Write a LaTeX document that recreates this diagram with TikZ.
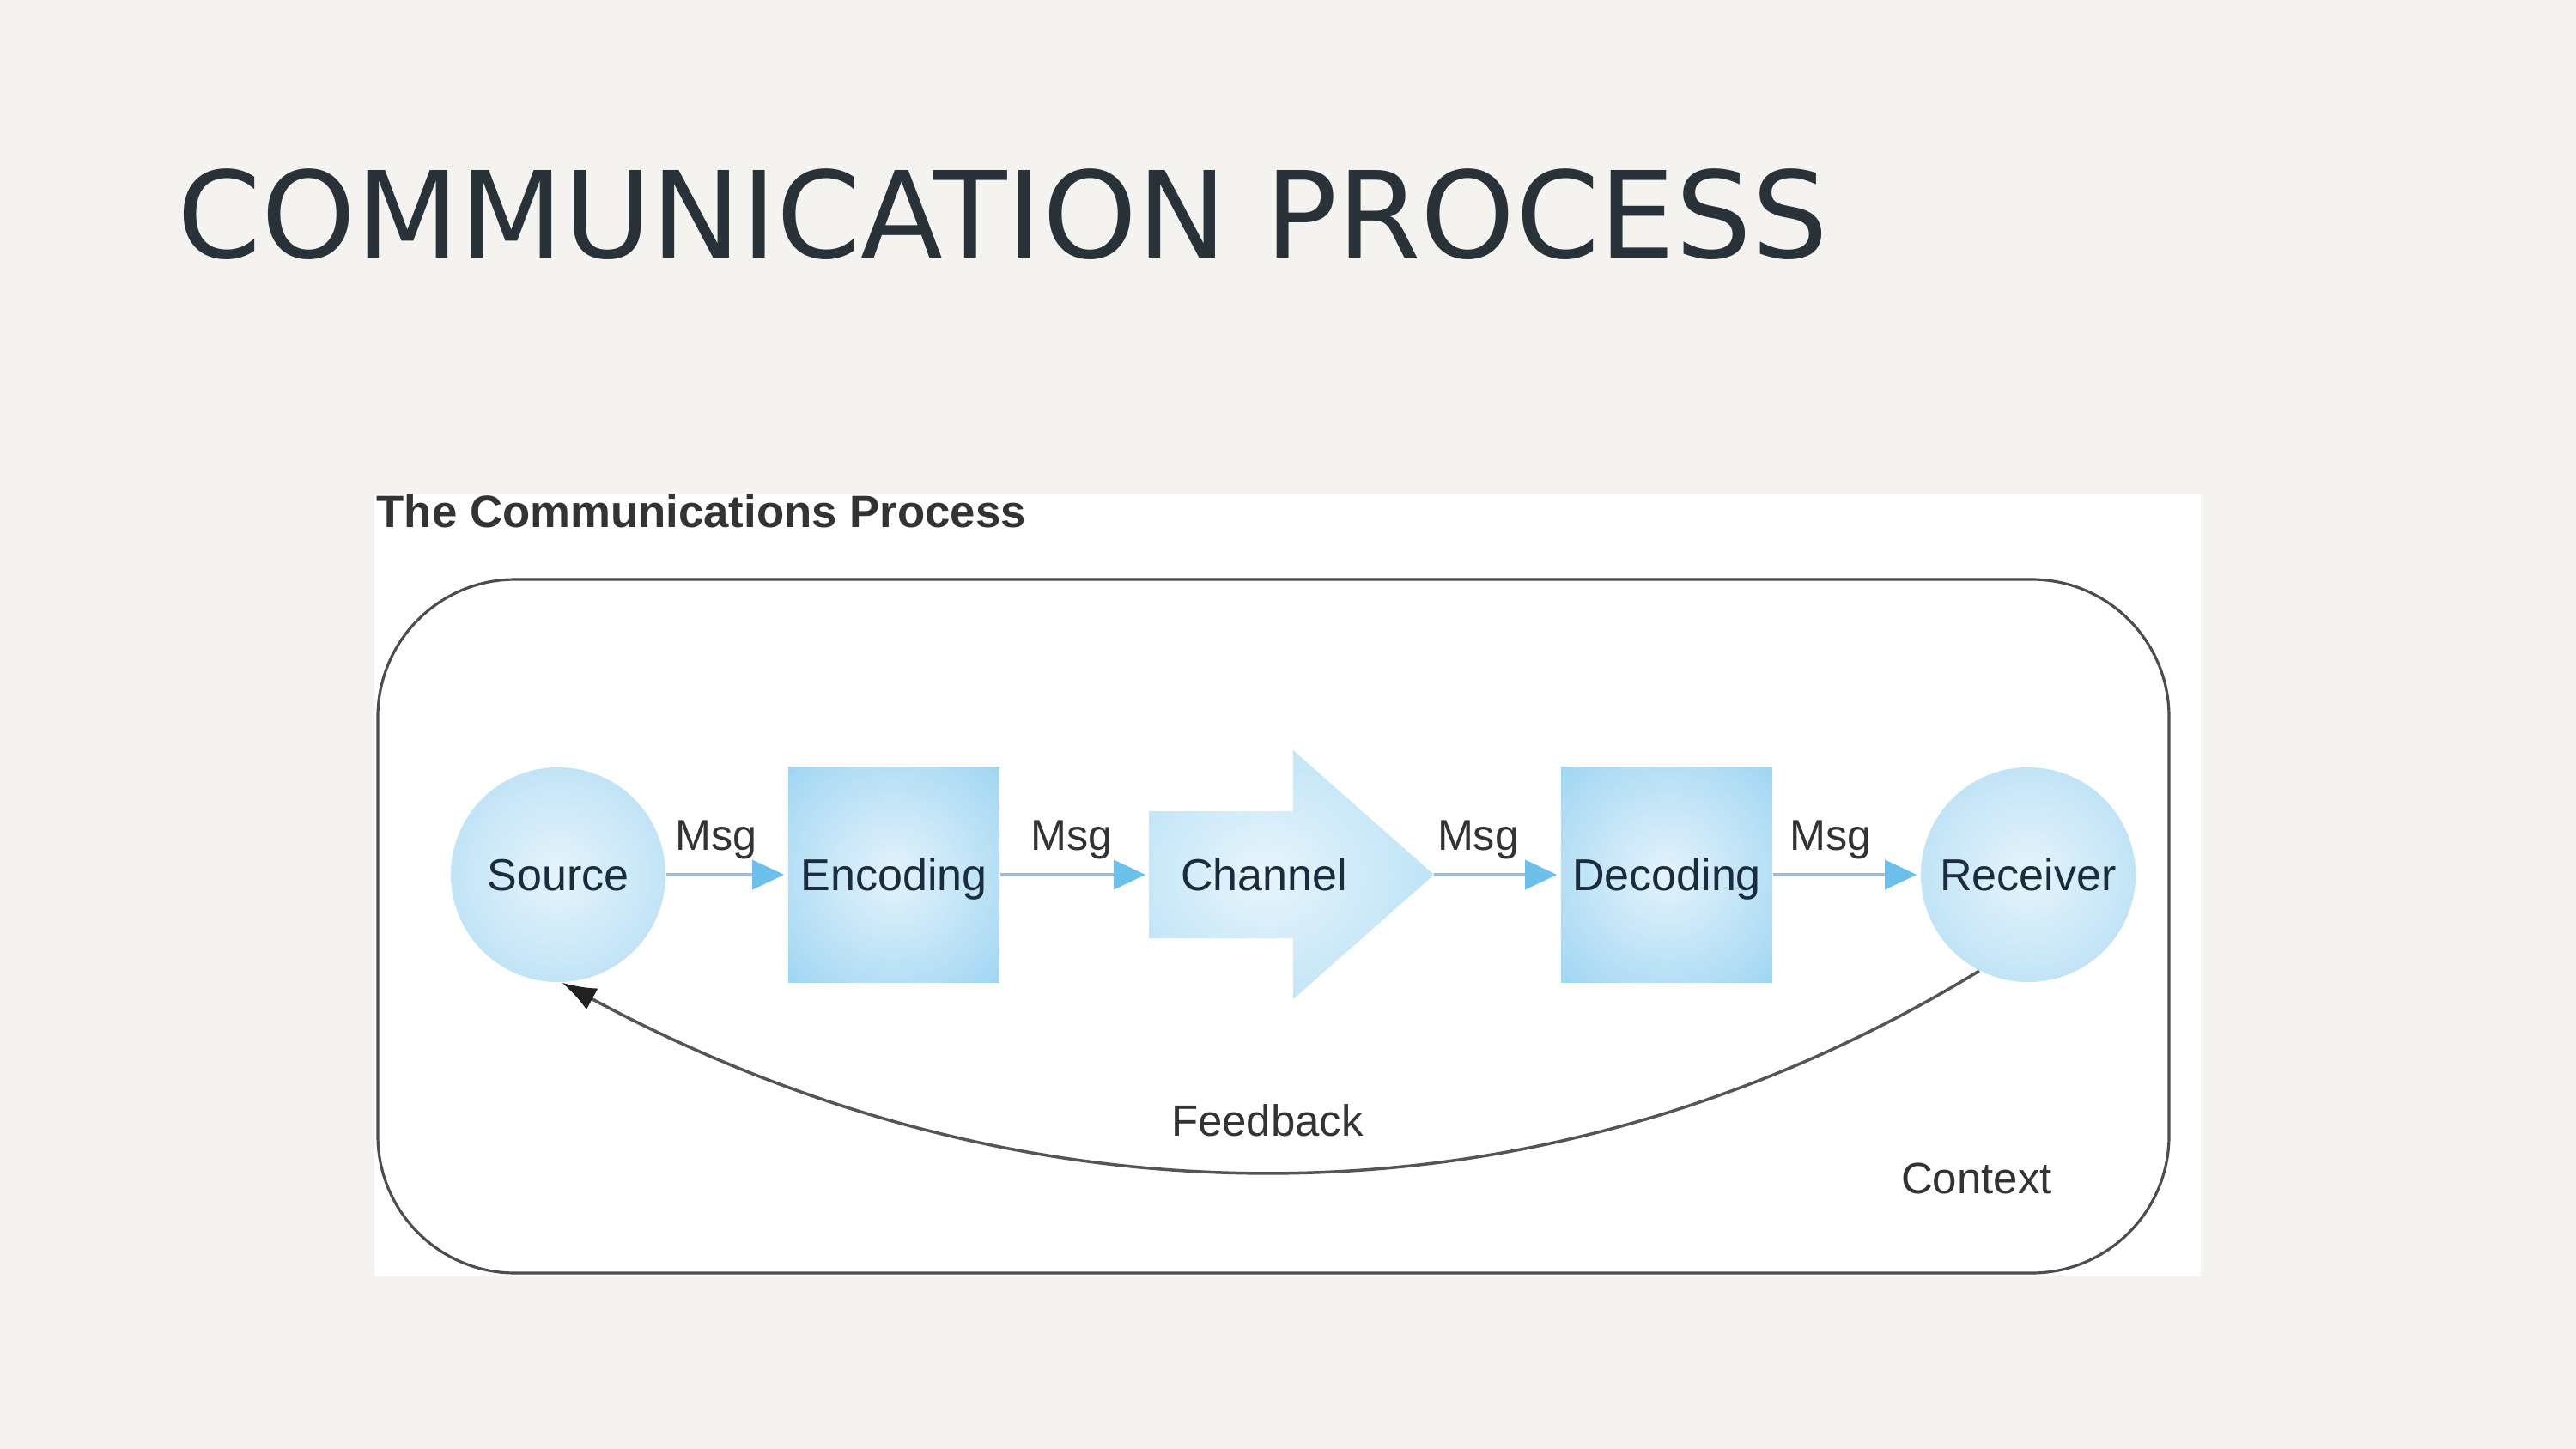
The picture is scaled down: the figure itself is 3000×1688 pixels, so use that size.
\documentclass[tikz,border=0pt]{standalone}
\usepackage{fontspec}
\setmainfont{DejaVu Sans}
\newfontfamily\arialf{Liberation Sans}
\usetikzlibrary{arrows.meta}
\definecolor{bgc}{HTML}{F4F3EF}
\definecolor{titlec}{HTML}{283238}
\definecolor{graytxt}{HTML}{333333}
\definecolor{navytxt}{HTML}{1A2C3D}
\definecolor{linec}{HTML}{9EBCD6}
\definecolor{headc}{HTML}{6CC0EA}
\definecolor{ctxc}{HTML}{4D4D4D}
\definecolor{fbc}{HTML}{555555}
\definecolor{fbhead}{HTML}{222222}
\definecolor{cin}{HTML}{E6F4FB}
\definecolor{cmid}{HTML}{C6E6F7}
\definecolor{cout}{HTML}{96CFEE}
\definecolor{bin}{HTML}{E4F3FB}
\definecolor{bmid}{HTML}{B3DEF5}
\definecolor{bout}{HTML}{7FC8EE}
\definecolor{bcorner}{HTML}{5FB8E6}
\definecolor{hin}{HTML}{E8F5FC}
\definecolor{hmid}{HTML}{C4E6F7}
\definecolor{hout}{HTML}{98D2F0}
\pgfdeclareradialshading{circsh}{\pgfpoint{0bp}{0bp}}{color(0bp)=(cin); color(22bp)=(cmid); color(50bp)=(cout)}
\pgfdeclareradialshading{boxsh}{\pgfpoint{0bp}{0bp}}{color(0bp)=(bin); color(26bp)=(bmid); color(50bp)=(bout); color(71bp)=(bcorner)}
\pgfdeclareradialshading{chansh}{\pgfpoint{-5bp}{0bp}}{color(0bp)=(hin); color(24bp)=(hmid); color(50bp)=(hout); color(71bp)=(hout)}
\tikzset{
  lbl/.style={font=\arialf\fontsize{14.8pt}{17pt}\selectfont, text=navytxt, text height=10.6pt, text depth=0pt},
  circnode/.style={circle, minimum size=2.5cm, inner sep=0pt, shade, shading=circsh, lbl},
  boxnode/.style={rectangle, minimum width=2.46cm, minimum height=2.5cm, inner sep=0pt, shade, shading=boxsh, lbl},
  msgarrow/.style={draw=linec, line width=1.1pt, shorten >=0.04cm, -{Triangle[length=0.37cm,width=0.34cm,color=headc]}},
  msglbl/.style={font=\arialf\fontsize{14.3pt}{17pt}\selectfont, text=graytxt, anchor=base, yshift=0.28cm, inner sep=0pt},
  plainlbl/.style={font=\arialf\fontsize{14.5pt}{17pt}\selectfont, text=graytxt, anchor=base, inner sep=0pt},
  ctxbox/.style={draw=ctxc, line width=0.9pt, rounded corners=1.6cm},
  fbarrow/.style={draw=fbc, line width=1pt, -{Latex[length=0.4cm,width=0.28cm,color=fbhead]}}
}
\begin{document}
\begin{tikzpicture}[x=0.01cm,y=-0.01cm]
\fill[bgc] (0,0) rectangle (3000,1688);
\useasboundingbox (0,0) rectangle (3000,1688);
\node[anchor=base west, inner sep=0pt, font=\fontsize{39.8pt}{48pt}\selectfont, text=titlec] (title) at (206,300) {COMMUNICATION PROCESS};
\fill[white] (436,576) rectangle (2563,1487);
\node[anchor=base west, inner sep=0pt, font=\arialf\bfseries\fontsize{15pt}{18pt}\selectfont, text=graytxt] (imgtitle) at (438,614) {The Communications Process};
\draw[ctxbox] (440,675) rectangle (2526,1483);
\node[circnode] (source) at (650,1019) {Source};
\node[boxnode] (encoding) at (1041,1019) {Encoding};
\shade[shading=chansh] (1338,945) -- (1506,945) -- (1506,874) -- (1670,1019) -- (1506,1164) -- (1506,1093) -- (1338,1093) -- cycle;
\node[lbl, inner sep=0pt] (channel) at (1472,1019) {Channel};
\coordinate (chin) at (1338,1019);
\coordinate (chout) at (1670,1019);
\node[boxnode] (decoding) at (1941,1019) {Decoding};
\node[circnode] (receiver) at (2362,1019) {Receiver};
\draw[msgarrow] (source.east) -- node[msglbl, pos=0.41] (m1) {Msg} (encoding.west);
\draw[msgarrow] (encoding.east) -- node[msglbl, pos=0.48] (m2) {Msg} (chin);
\draw[msgarrow] (chout) -- node[msglbl, pos=0.35] (m3) {Msg} (decoding.west);
\draw[msgarrow] (decoding.east) -- node[msglbl, pos=0.39] (m4) {Msg} (receiver.west);
\draw[fbarrow] (receiver.-117) .. controls (1800,1440) and (1200,1440) .. (source.-88);
\node[plainlbl] (feedback) at (1476,1323) {Feedback};
\node[plainlbl] (context) at (2302,1390) {Context};
\end{tikzpicture}
\end{document}
